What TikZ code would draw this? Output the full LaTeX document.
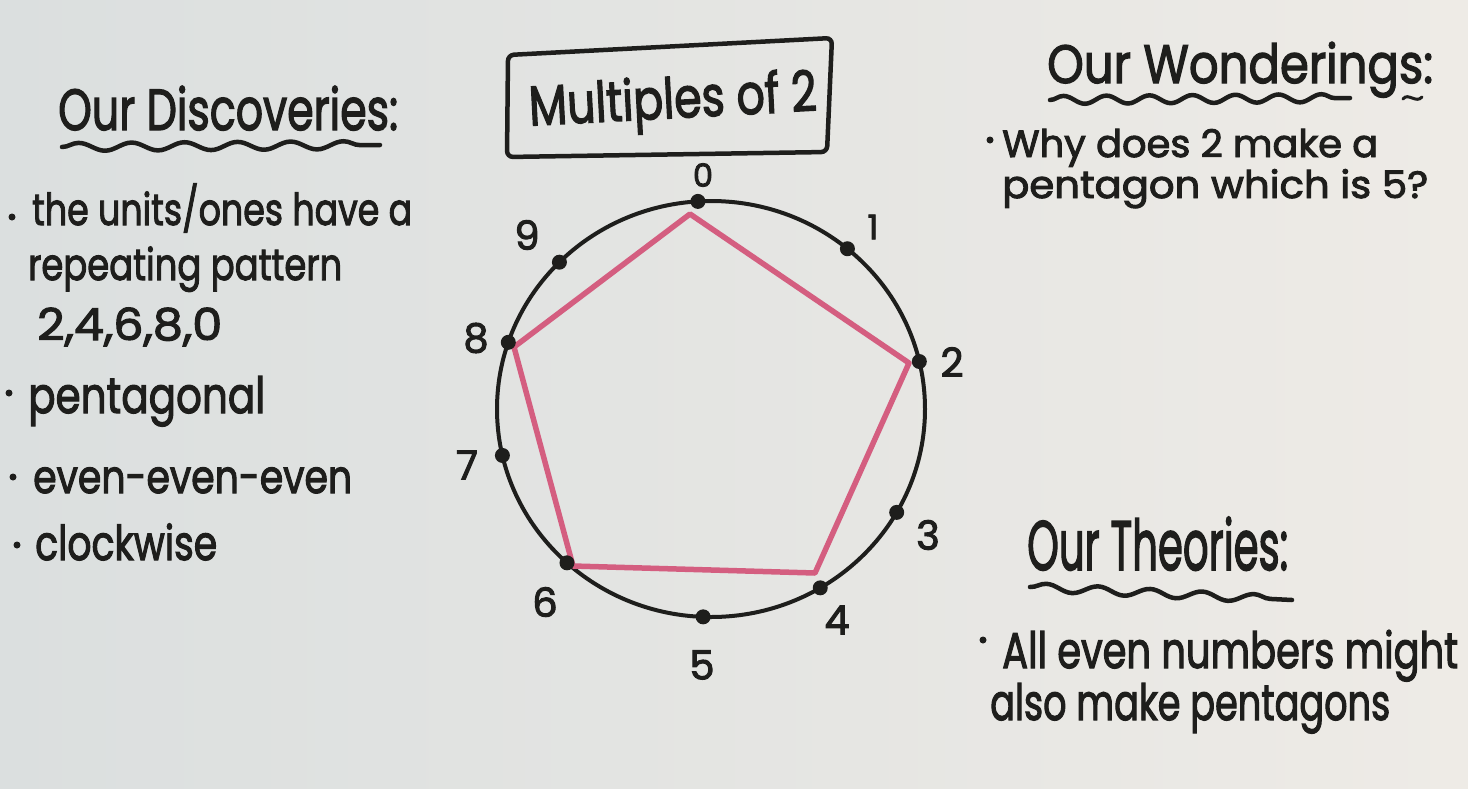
\documentclass[tikz,border=0pt]{standalone}
\usepackage{fontspec}
\usepackage{graphicx}
\setmainfont{Poppins}[FakeBold=2.5]
\usetikzlibrary{decorations.pathmorphing}
\definecolor{bgL}{RGB}{219,223,223}
\definecolor{bgR}{RGB}{238,235,230}
\definecolor{ink}{RGB}{30,30,28}
\definecolor{pinkline}{RGB}{212,94,128}
\newcommand{\hw}[3]{\fontsize{#1}{#1}\selectfont\resizebox{#2}{\height}{#3}}
\tikzset{
  txt/.style={anchor=base west, inner sep=0pt, text=ink},
  num/.style={anchor=center, inner sep=0pt, text=ink, font=\fontsize{40}{40}\selectfont},
  dot/.style={circle, fill=ink, inner sep=0pt, minimum size=15pt},
  bullet/.style={circle, fill=ink, inner sep=0pt, minimum size=7pt},
  ring/.style={draw=ink, line width=4pt},
  pent/.style={draw=pinkline, line width=5.5pt, line join=round},
  wavy/.style={draw=ink, line width=4.5pt, line cap=round, decorate, decoration={snake, amplitude=4pt, segment length=#1}},
  frame/.style={draw=ink, line width=4.5pt, rounded corners=6pt}
}
\begin{document}
\begin{tikzpicture}[x=1pt,y=-1pt]
\shade[left color=bgL, right color=bgR] (0,0) rectangle (1468,788);
\useasboundingbox (0,0) rectangle (1468,788);

% title box
\draw[frame] (508,55) -- (832,38) -- (827,152) -- (507,157) -- cycle;
\node[anchor=center, inner sep=0pt, text=ink, rotate=3] (title) at (673,104) {\hw{56}{288pt}{Multiples of 2}};

% clock circle and points
\coordinate (c) at (711,409);
\draw[ring] (c) ellipse [x radius=214, y radius=208];
\foreach \i/\a in {0/-93.5, 1/-50.4, 2/-13.2, 3/29.8, 4/59.3, 5/92.1, 6/132.3, 7/167.1, 8/198.7, 9/224.9} {
  \path (c) ++(\a:214 and 208) coordinate (p\i);
}

% pentagon
\coordinate (v0) at (690,214);
\coordinate (v2) at (909,363);
\coordinate (v4) at (815,573);
\coordinate (v6) at (573,566);
\coordinate (v8) at (514,347);
\draw[pent] (v0) -- (v2) -- (v4) -- (v6) -- (v8) -- cycle;

\foreach \i in {0,...,9} { \node[dot] (d\i) at (p\i) {}; }

% number labels
\node[num, font=\fontsize{32}{32}\selectfont] (n0) at (703,175) {0};
\node[num, font=\fontsize{34}{34}\selectfont] (n1) at (873,227) {1};
\node[num] (n2) at (952,362) {2};
\node[num] (n3) at (928,535) {3};
\node[num] (n4) at (837,620) {4};
\node[num] (n5) at (702,665) {5};
\node[num] (n6) at (545,602) {6};
\node[num] (n7) at (467,465) {7};
\node[num] (n8) at (476,338) {8};
\node[num] (n9) at (527,235) {9};

% Our Discoveries
\node[txt] (disc) at (58,130) {\hw{58}{340pt}{Our Discoveries:}};
\coordinate (dw1) at (62,147);
\coordinate (dw2) at (380,145);
\draw[wavy=53pt] (dw1) -- (dw2);
\node[bullet] (b1) at (12,217) {};
\node[txt] (l1) at (32,225) {\hw{44}{380pt}{the units/ones have a}};
\node[txt] (l2) at (28,280) {\hw{44}{314pt}{repeating pattern}};
\node[txt] (l3) at (37,340) {\hw{44}{185pt}{2,4,6,8,0}};
\node[bullet] (b2) at (9,393) {};
\node[txt] (l4) at (28,413) {\hw{50}{237pt}{pentagonal}};
\node[bullet] (b3) at (13,477) {};
\node[txt] (l5) at (33,493) {\hw{46}{319pt}{even-even-even}};
\node[bullet] (b4) at (17,545) {};
\node[txt] (l6) at (35,560) {\hw{48}{182pt}{clockwise}};

% Our Wonderings
\node[txt] (wond) at (1047,83) {\hw{54}{386pt}{Our Wonderings:}};
\coordinate (ww1) at (1050,100);
\coordinate (ww2) at (1350,98);
\draw[wavy=43pt] (ww1) -- (ww2);
\coordinate (wt1) at (1403,99);
\coordinate (wt2) at (1422,97);
\draw[ink, line width=3pt, line cap=round] (wt1) .. controls (1408,92) and (1416,104) .. (wt2);
\node[bullet] (b5) at (990,140) {};
\node[txt] (w1) at (1002,157) {\hw{38}{376pt}{Why does 2 make a}};
\node[txt] (w2) at (1002,198) {\hw{38}{426pt}{pentagon which is 5?}};

% Our Theories
\node[txt] (theo) at (1027,570) {\hw{70}{261pt}{Our Theories:}};
\coordinate (tw1) at (1030,587);
\coordinate (tw2) at (1292,600);
\draw[wavy=52pt] (tw1) -- (tw2);
\node[bullet] (b6) at (983,640) {};
\node[txt] (t1) at (1002,668) {\hw{50}{456pt}{All even numbers might}};
\node[txt] (t2) at (990,720) {\hw{50}{400pt}{also make pentagons}};
\end{tikzpicture}
\end{document}
